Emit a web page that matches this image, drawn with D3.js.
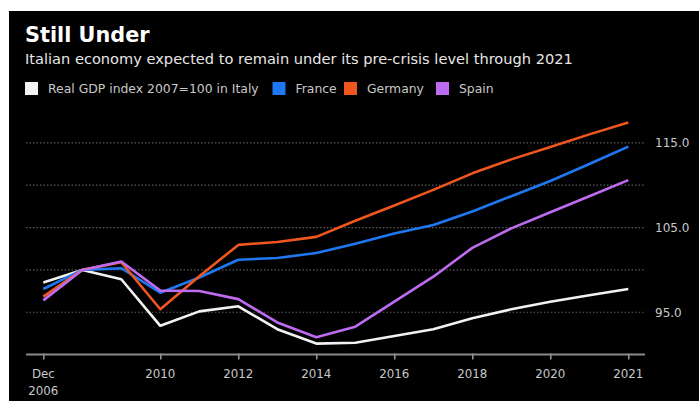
<!DOCTYPE html>
<html>
<head>
<meta charset="utf-8">
<script src="https://cdn.jsdelivr.net/npm/d3@7"></script>
<style>
  html, body { margin: 0; padding: 0; background: #fff; }
  svg { display: block; }
  text { font-family: "DejaVu Sans", sans-serif; }
</style>
</head>
<body>
<svg id="chart" width="699" height="401"></svg>
<script>
// ---- Data ----
const years = [2006, 2007, 2008, 2009, 2010, 2011, 2012, 2013, 2014, 2015, 2016, 2017, 2018, 2019, 2020, 2021];
const italy   = [98.5, 100.0, 98.9, 93.4, 95.1, 95.7, 93.0, 91.3, 91.4, 92.2, 93.0, 94.3, 95.35, 96.25, 97.0, 97.75];
const france  = [97.75, 100.0, 100.2, 97.3, 99.1, 101.2, 101.4, 102.0, 103.1, 104.3, 105.3, 106.9, 108.7, 110.5, 112.5, 114.55];
const germany = [96.85, 100.0, 100.9, 95.35, 99.25, 102.95, 103.3, 103.9, 105.8, 107.6, 109.45, 111.4, 113.05, 114.5, 116.0, 117.4];
const spain   = [96.4, 100.0, 101.0, 97.55, 97.5, 96.55, 93.8, 92.05, 93.3, 96.25, 99.2, 102.6, 104.9, 106.8, 108.7, 110.6];
const seriesNames = ["Real GDP index 2007=100 in Italy", "France", "Germany", "Spain"];
const seriesColors = ["#f2f2f2", "#1f78f2", "#f0571f", "#bd6cf2"];
const xTickIndex = [0, 3, 5, 7, 9, 11, 13, 15];
const xTickLabels = [["Dec", "2006"], ["2010"], ["2012"], ["2014"], ["2016"], ["2018"], ["2020"], ["2021"]];
const yTicks = [95, 100, 105, 110, 115];
const yTickLabels = ["95.0", "", "105.0", "", "115.0"];

const svg = d3.select("#chart");
// black panel
svg.append("rect").attr("x", 9).attr("y", 11).attr("width", 690).attr("height", 390).attr("fill", "#000");

// titles
svg.append("text").attr("x", 25).attr("y", 42).attr("fill", "#fff")
  .attr("font-size", 20.8).attr("font-weight", 700).text("Still Under");
svg.append("text").attr("x", 25).attr("y", 64).attr("fill", "#e6e6e6")
  .attr("font-size", 14.6).text("Italian economy expected to remain under its pre-crisis level through 2021");

// legend
const legendX = [25, 272.5, 344, 436];
seriesNames.forEach((n, i) => {
  svg.append("rect").attr("x", legendX[i]).attr("y", 82).attr("width", 13).attr("height", 13)
    .attr("fill", seriesColors[i]);
  svg.append("text").attr("x", legendX[i] + 23).attr("y", 93).attr("fill", "#c8c8c8")
    .attr("font-size", 12.4).text(n);
});

// scales
const x = d3.scaleLinear().domain([0, years.length - 1]).range([43.3, 628.3]);
const y = d3.scaleLinear().domain([90, 120]).range([354.6, 100.5]);

// gridlines
svg.append("g").selectAll("line").data(yTicks).join("line")
  .attr("x1", 26).attr("x2", 645)
  .attr("y1", d => y(d)).attr("y2", d => y(d))
  .attr("stroke", "#5a5a5a").attr("stroke-width", 1.2).attr("stroke-dasharray", "1.5,2");

// y labels
svg.append("g").selectAll("text").data(yTicks).join("text")
  .attr("x", 655).attr("y", d => y(d) + 4.5)
  .attr("fill", "#c8c8c8").attr("font-size", 12)
  .text((d, i) => yTickLabels[i]);

// x axis
const axisY = y(90);
const xAxis = d3.axisBottom(x).tickValues(xTickIndex).tickSize(5).tickFormat("");
const gx = svg.append("g").attr("transform", `translate(0,${axisY})`).call(xAxis);
gx.select(".domain").remove();
gx.selectAll(".tick line").attr("stroke", "#9a9a9a").attr("stroke-width", 1.5).attr("y1", -1);
svg.append("line").attr("x1", 26).attr("x2", 645).attr("y1", axisY).attr("y2", axisY)
  .attr("stroke", "#8a8a8a").attr("stroke-width", 2);

xTickIndex.forEach((ti, k) => {
  const t = svg.append("text").attr("x", x(ti)).attr("y", 378).attr("text-anchor", "middle")
    .attr("fill", "#c8c8c8").attr("font-size", 11.8);
  xTickLabels[k].forEach((line, j) => {
    t.append("tspan").attr("x", x(ti)).attr("dy", j === 0 ? 0 : 17).text(line);
  });
});

// lines
const line = d3.line().x((d, i) => x(i)).y(d => y(d));
const allSeries = [italy, france, germany, spain];
[0, 1, 2, 3].forEach(i => {
  svg.append("path").datum(allSeries[i]).attr("d", line)
    .attr("fill", "none").attr("stroke", seriesColors[i]).attr("stroke-width", 2.6)
    .attr("stroke-linejoin", "round");
});
</script>
</body>
</html>
